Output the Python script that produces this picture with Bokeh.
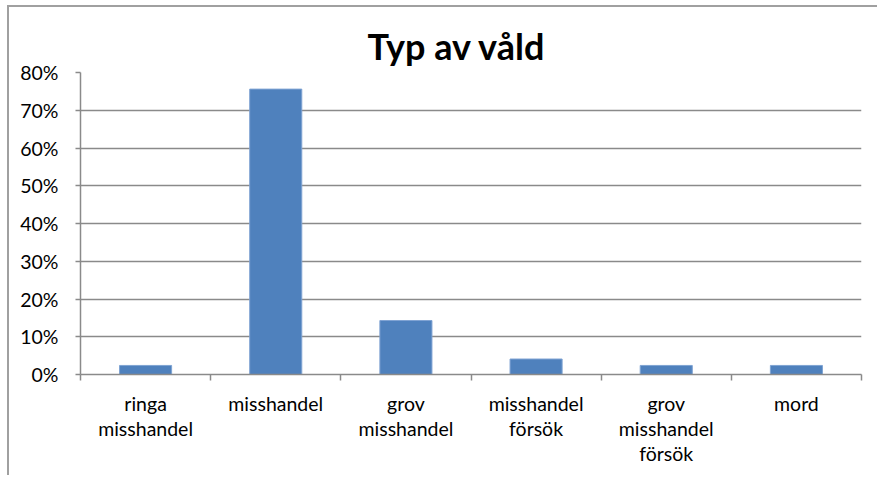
from bokeh.plotting import figure
from bokeh.models import FixedTicker, NumeralTickFormatter, Range1d, ColumnDataSource
from bokeh.embed import file_html
from bokeh.resources import INLINE

categories = ["ringa\nmisshandel", "misshandel", "grov\nmisshandel", "misshandel\nförsök",
              "grov\nmisshandel\nförsök", "mord"]
values = [0.024, 0.756, 0.143, 0.041, 0.024, 0.024]
y_ticks = [0.0, 0.1, 0.2, 0.3, 0.4, 0.5, 0.6, 0.7, 0.8]
title_text = "Typ av våld"

FONT = "Lato"
GRAY = "#8a8a8a"

n = len(categories)
centers = [i + 0.5 for i in range(n)]
src = ColumnDataSource(data=dict(x=centers, top=values))

p = figure(width=870, height=470, output_backend="svg", toolbar_location=None,
           x_range=Range1d(0, n), y_range=Range1d(0, 0.8),
           min_border_left=71, min_border_right=18, min_border_top=65, min_border_bottom=103)
p.styles = {"margin-left": "7px", "margin-top": "5px",
            "border-left": "2px solid #a0a0a0", "border-top": "2px solid #a0a0a0"}
p.outline_line_color = None
p.background_fill_color = "white"

p.title.text = title_text
p.title.text_font = FONT
p.title.text_font_size = "36px"
p.title.text_font_style = "bold"
p.title.align = "left"
p.title.offset = 287
p.title.text_color = "#000000"

p.vbar(x="x", top="top", width=0.4, source=src, fill_color="#4F81BD", line_color="#7FA3D3", line_width=1)

# x axis
p.xaxis.ticker = FixedTicker(ticks=centers, minor_ticks=list(range(n + 1)))
p.xaxis.major_label_overrides = {c: lab for c, lab in zip(centers, categories)}
p.xaxis.major_tick_line_color = None
p.xaxis.minor_tick_line_color = GRAY
p.xaxis.minor_tick_in = 0
p.xaxis.minor_tick_out = 6
p.xaxis.axis_line_color = GRAY
p.xaxis.axis_line_width = 1.5
p.xaxis.minor_tick_line_width = 1.5
p.xaxis.major_label_text_font = FONT
p.xaxis.major_label_text_font_size = "19.5px"
p.xaxis.major_label_text_color = "#000000"
p.xaxis.major_label_standoff = 11
p.xaxis.major_label_text_line_height = 1.1
p.xgrid.grid_line_color = None

# y axis
p.yaxis.ticker = FixedTicker(ticks=y_ticks)
p.yaxis.formatter = NumeralTickFormatter(format="0%")
p.yaxis.axis_line_color = GRAY
p.yaxis.axis_line_width = 1.5
p.yaxis.major_tick_line_color = GRAY
p.yaxis.major_tick_line_width = 1.5
p.yaxis.major_tick_in = 0
p.yaxis.major_tick_out = 5
p.yaxis.minor_tick_line_color = None
p.yaxis.major_label_text_font = FONT
p.yaxis.major_label_text_font_size = "19.5px"
p.yaxis.major_label_text_color = "#000000"
p.yaxis.major_label_standoff = 17
p.ygrid.grid_line_color = GRAY
p.ygrid.grid_line_width = 1.5

open("out.html", "w").write(file_html(p, INLINE))
